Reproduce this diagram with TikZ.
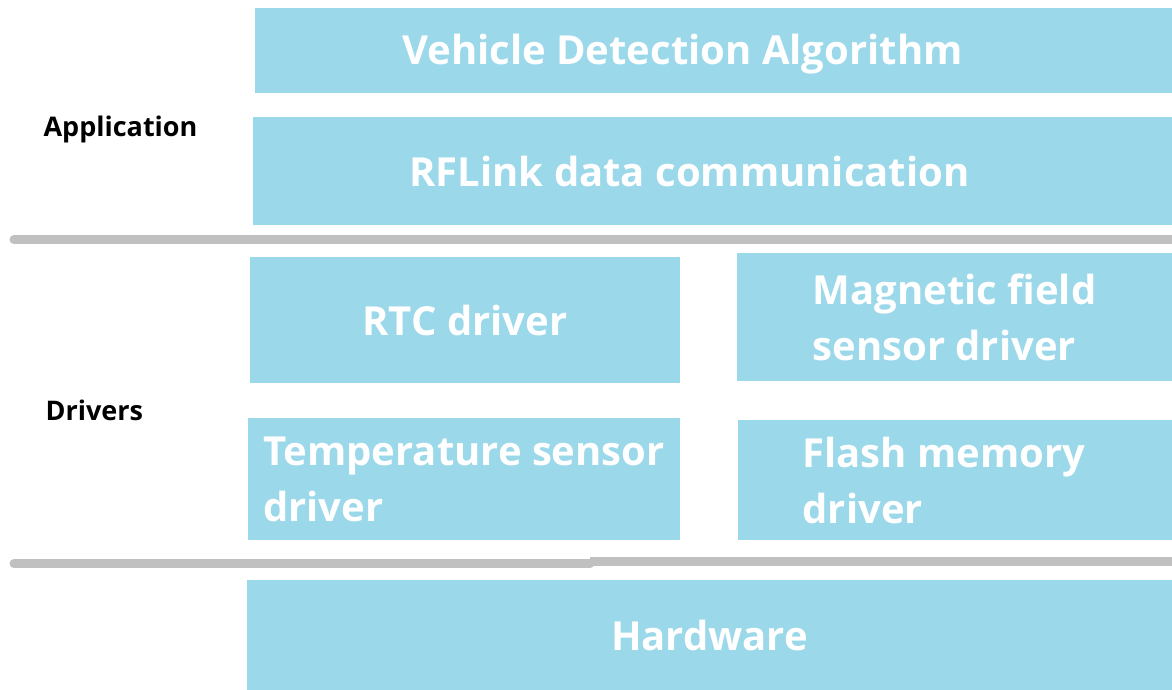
\documentclass[tikz,border=0pt]{standalone}
\usepackage{fontspec}
\setmainfont{Open Sans}
\usepackage{xcolor}
\definecolor{layerblue}{HTML}{9BD8EA}
\definecolor{rulegray}{HTML}{C0C0C0}

\begin{document}
\begin{tikzpicture}[x=1pt,y=-1pt,
    layer/.style={fill=layerblue,draw=none,inner sep=0pt,text=white,font=\bfseries\fontsize{40}{56}\selectfont,align=left},
    layer text/.style={text=white,inner sep=0pt,font=\bfseries\fontsize{40}{56}\selectfont,align=left},
    tag/.style={font=\bfseries\fontsize{27}{32}\selectfont,text=black},
    sep/.style={draw=rulegray,line width=9pt}]
    \useasboundingbox (0,0) rectangle (1172,690);

    % application layer
    \node[layer,minimum width=917pt,minimum height=85pt] (algo) at (713.5,50.5) {};
    \node[layer text] (algotext) at ([xshift=-31pt,yshift=-4pt]algo.center) {Vehicle Detection Algorithm};
    \node[layer,minimum width=919pt,minimum height=108pt] (rflink) at (712.5,171) {};
    \node[layer text] (rflinktext) at ([xshift=-23pt]rflink.center) {RFLink data communication};
    \node[tag,anchor=west] (app) at (40,129) {Application};

    \coordinate (s1a) at (14,239.5);
    \coordinate (s1b) at (1172,239.5);
    \draw[sep,line cap=round] (s1a) -- (s1b);

    % drivers layer
    \node[layer,minimum width=430pt,minimum height=126pt] (rtc) at (465,320) {RTC driver};
    \node[layer,minimum width=435pt,minimum height=128pt] (mag) at (954.5,317) {Magnetic field\\sensor driver};
    \node[layer,minimum width=432pt,minimum height=122pt] (temp) at (464,479) {Temperature sensor\\driver};
    \node[layer,minimum width=434pt,minimum height=120pt] (flash) at (955,480) {};
    \node[layer text] (flashtext) at ([xshift=-11pt]flash.center) {Flash memory\\driver};
    \node[tag,anchor=west] (drv) at (42,410) {Drivers};

    \coordinate (s2a) at (14,563.7);
    \coordinate (s2m) at (590,563.7);
    \coordinate (s2n) at (590,561.3);
    \coordinate (s2b) at (1172,561.3);
    \draw[sep,line cap=round] (s2a) -- (s2m);
    \draw[sep] (s2n) -- (s2b);

    % hardware
    \node[layer,minimum width=925pt,minimum height=110pt] (hw) at (709.5,635) {Hardware};
\end{tikzpicture}
\end{document}
